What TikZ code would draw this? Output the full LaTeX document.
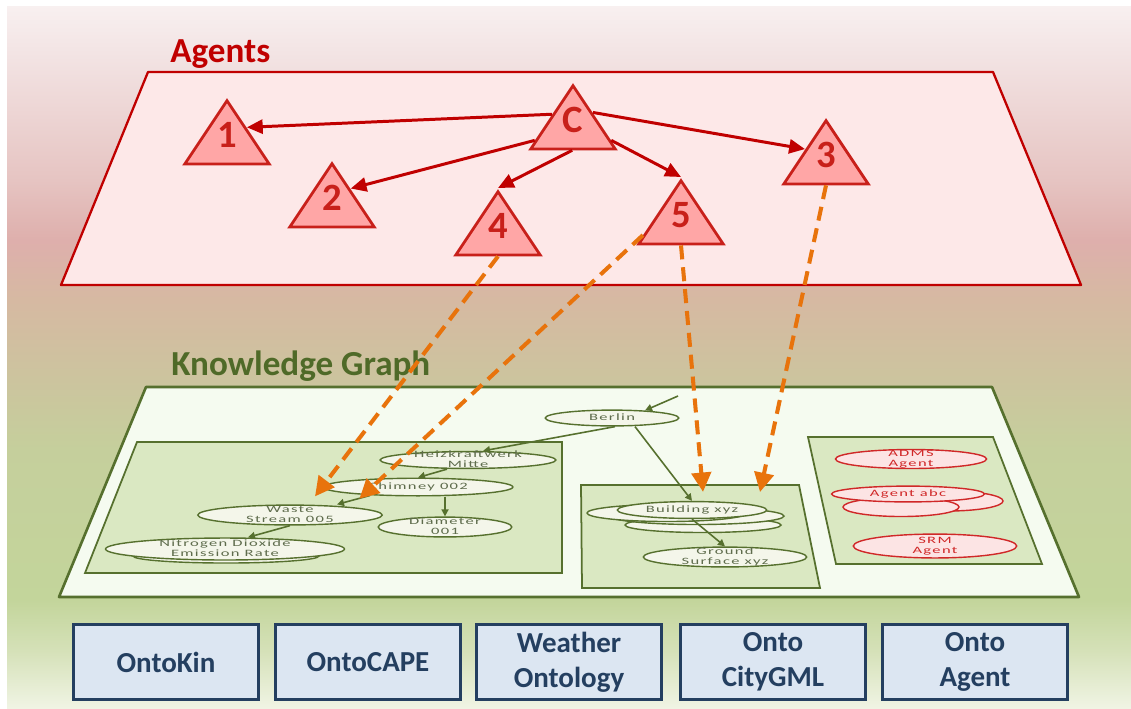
\documentclass[tikz,border=0pt]{standalone}
\usepackage{fontspec}
\setmainfont{Carlito}
\newfontfamily\kgfont[LetterSpace=8]{Carlito}
\usetikzlibrary{shapes.geometric,arrows.meta,calc}

\definecolor{agentred}{HTML}{C00000}
\definecolor{trifill}{HTML}{FFA6A6}
\definecolor{triline}{HTML}{C8201A}
\definecolor{planered}{HTML}{FDE8E8}
\definecolor{kgfill}{HTML}{F5FBF0}
\definecolor{kgline}{HTML}{56702E}
\definecolor{boxfill}{HTML}{DAE8C2}
\definecolor{ellfill}{HTML}{F4F6EA}
\definecolor{elltext}{HTML}{5E6C4C}
\definecolor{kgtitle}{HTML}{4F6A28}
\definecolor{dashorange}{HTML}{E8730C}
\definecolor{ontofill}{HTML}{DCE6F2}
\definecolor{ontoline}{HTML}{243F60}
\definecolor{agell}{HTML}{FCE4E4}
\definecolor{agelltext}{HTML}{D02828}
\definecolor{bg0}{HTML}{F8F0F0}
\definecolor{bg1}{HTML}{F2E2E2}
\definecolor{bg2}{HTML}{E6C4C2}
\definecolor{bg3}{HTML}{DEAFAC}
\definecolor{bg4}{HTML}{D6B9A2}
\definecolor{bg5}{HTML}{CCC49E}
\definecolor{bg6}{HTML}{C5CF9C}
\definecolor{bg7}{HTML}{C3D59B}
\definecolor{bg8}{HTML}{D5E1B8}
\definecolor{bg9}{HTML}{F0F4E4}

\pgfdeclareverticalshading{bgshade}{100bp}{color(0bp)=(bg9); color(25bp)=(bg9);
  color(29.1bp)=(bg8); color(32.7bp)=(bg7); color(43.4bp)=(bg6); color(48.4bp)=(bg5);
  color(54.1bp)=(bg4); color(58.3bp)=(bg3); color(62.6bp)=(bg2); color(71.15bp)=(bg1);
  color(75bp)=(bg0); color(100bp)=(bg0)}

% text of the small graph nodes, kept out of the node size
\newcommand{\zb}[1]{\makebox[0pt]{\raisebox{-0.25em}[0pt][0pt]{\scalebox{1.45}[0.85]{%
  \begin{tabular}{@{}c@{}}#1\end{tabular}}}}}

\tikzset{
  agplane/.style={draw=agentred, fill=planered, line width=1.3pt, line join=round},
  kgplane/.style={draw=kgline, fill=kgfill, line width=1.5pt, line join=round},
  kgbox/.style={draw=kgline, fill=boxfill, line width=1pt},
  agtitle/.style={font=\bfseries\fontsize{20}{24}\selectfont, text=agentred, inner sep=0pt},
  kgtitle/.style={font=\bfseries\fontsize{20}{24}\selectfont, text=kgtitle, inner sep=0pt},
  agent/.style={isosceles triangle, shape border rotate=90, isosceles triangle stretches,
    minimum width=48pt, minimum height=36pt, inner sep=0pt, draw=triline, fill=trifill,
    line width=1.6pt, text=triline, text depth=7pt,
    font=\bfseries\fontsize{22}{22}\selectfont},
  kgell/.style={ellipse, draw=kgline, fill=ellfill, line width=0.8pt, inner sep=0pt,
    text=elltext, font=\kgfont\fontsize{6.5}{6.2}\selectfont},
  agell/.style={ellipse, draw=agelltext, fill=agell, line width=0.8pt, inner sep=0pt,
    text=agelltext, font=\kgfont\fontsize{6.5}{6.2}\selectfont},
  kgarrow/.style={draw=kgline, line width=0.9pt, -{Triangle[length=4pt,width=4pt]}},
  redarrow/.style={draw=agentred, line width=1.7pt, -{Triangle[length=9pt,width=8pt]}},
  orangedash/.style={draw=dashorange, line width=2.3pt, dash pattern=on 8pt off 4.5pt,
    -{Triangle[length=11pt,width=11pt]}},
  onto/.style={draw=ontoline, fill=ontofill, line width=1.8pt, minimum width=105pt,
    minimum height=42.5pt, align=center, text=ontoline,
    font=\bfseries\fontsize{16.5}{20}\selectfont}
}

\begin{document}
\begin{tikzpicture}[x=0.02cm,y=-0.02cm]
  \useasboundingbox (0,0) rectangle (1131,708);
  \shade[shading=bgshade] (7,6) rectangle (1131,708);

  % agents layer
  \draw[agplane] (148,72) -- (993,72) -- (1081,285) -- (61,285) -- cycle;
  \node[agtitle, anchor=base west] (agents) at (170,62) {Agents};

  % knowledge graph layer
  \draw[kgplane] (146,387) -- (992,387) -- (1079,597) -- (59,597) -- cycle;
  \node[kgtitle, anchor=base west] (kg) at (171,375) {Knowledge Graph};
  \draw[kgbox] (137,442) -- (562,442) -- (562,573) -- (85,573) -- cycle;
  \draw[kgbox] (581,485) -- (799,485) -- (820,588) -- (582,588) -- cycle;
  \draw[kgbox] (808,437) -- (993,437) -- (1042,564) -- (836,564) -- cycle;
  \coordinate (bldgbox) at (760,492);
  \coordinate (kgin) at (678,396);

  \node[kgell, minimum width=76pt, minimum height=9pt] (berlin) at (612,418) {\zb{Berlin}};
  \node[kgell, minimum width=100pt, minimum height=9.6pt] (heiz) at (468,460) {\zb{Heizkraftwerk\\Mitte}};
  \node[kgell, minimum width=108pt, minimum height=10pt] (chimney) at (418,487) {\zb{Chimney 002}};
  \node[kgell, minimum width=105pt, minimum height=11.3pt] (waste) at (290,515) {\zb{Waste\\Stream 005}};
  \node[kgell, minimum width=76pt, minimum height=11.3pt] (diam) at (445,527) {\zb{Diameter\\001}};
  \draw[kgell] (226,556) ellipse [x radius=93, y radius=7];
  \node[kgell, minimum width=136pt, minimum height=12.5pt] (nitro) at (225,549) {\zb{Nitrogen Dioxide\\Emission Rate}};

  \draw[kgell] (703,525) ellipse [x radius=78, y radius=7.5];
  \draw[kgell] (697,516) ellipse [x radius=87, y radius=8.5];
  \draw[kgell] (667,513) ellipse [x radius=80, y radius=8.5];
  \node[kgell, minimum width=85pt, minimum height=9.6pt] (bldg) at (692,510) {\zb{Building xyz}};
  \node[kgell, minimum width=93pt, minimum height=11.3pt] (ground) at (725,557) {\zb{Ground\\Surface xyz}};

  \node[agell, minimum width=86pt, minimum height=10.8pt] (adms) at (911,459) {\zb{ADMS\\Agent}};
  \draw[agell] (948,501) ellipse [x radius=55, y radius=10];
  \draw[agell] (901,507) ellipse [x radius=58, y radius=9.5];
  \node[agell, minimum width=87pt, minimum height=9pt] (abc) at (908,494) {\zb{Agent abc}};
  \node[agell, minimum width=93pt, minimum height=13.6pt] (srm) at (935,546) {\zb{SRM\\Agent}};

  \draw[kgarrow] (kgin) -- ($(berlin.north)+(33,1)$);
  \draw[kgarrow] ($(berlin.south)+(3,0)$) -- ($(heiz.north)+(15,0)$);
  \draw[kgarrow] ($(heiz.south)+(-21,0)$) -- (chimney.north);
  \draw[kgarrow] ($(chimney.south)+(-48,-1)$) -- ($(waste.north)+(47,0)$);
  \draw[kgarrow] (diam.north |- chimney.south) -- (diam.north);
  \draw[kgarrow] (waste.south) -- ($(nitro.north)+(23,0)$);
  \draw[kgarrow] ($(berlin.south)+(23,0)$) -- (bldg.north);
  \draw[kgarrow] (bldg.south) -- (ground.north);

  % ontologies
  \node[onto] (kin) at (166,662) {OntoKin};
  \node[onto] (cape) at (368,662) {OntoCAPE};
  \node[onto] (weather) at (569,662) {Weather\\Ontology};
  \node[onto] (citygml) at (773,662) {Onto\\CityGML};
  \node[onto] (ontoagent) at (975,662) {Onto\\Agent};

  % agents
  \node[agent, anchor=apex] (c) at (573,82) {C};
  \node[agent, anchor=apex] (a1) at (227,97) {1};
  \node[agent, anchor=apex] (a2) at (332,160) {2};
  \node[agent, anchor=apex] (a3) at (826,117) {3};
  \node[agent, anchor=apex] (a4) at (498,188) {4};
  \node[agent, anchor=apex] (a5) at (681,177) {5};

  \draw[redarrow] (c.150) -- (a1.35);
  \draw[redarrow] (c.35) -- (a3.150);
  \draw[redarrow] (c.-160) -- (a2.40);
  \draw[redarrow] (c.-92) -- (a4.apex);
  \draw[redarrow] (c.-20) -- (a5.apex);

  \draw[orangedash] (a4.-90) -- ($(waste.north)+(25,-8)$);
  \draw[orangedash] (a5.-160) -- ($(chimney.south west)+(9,5)$);
  \draw[orangedash] (a5.-90) -- ($(bldg.north)+(11,-9)$);
  \draw[orangedash] (a3.-90) -- (bldgbox);
\end{tikzpicture}
\end{document}
